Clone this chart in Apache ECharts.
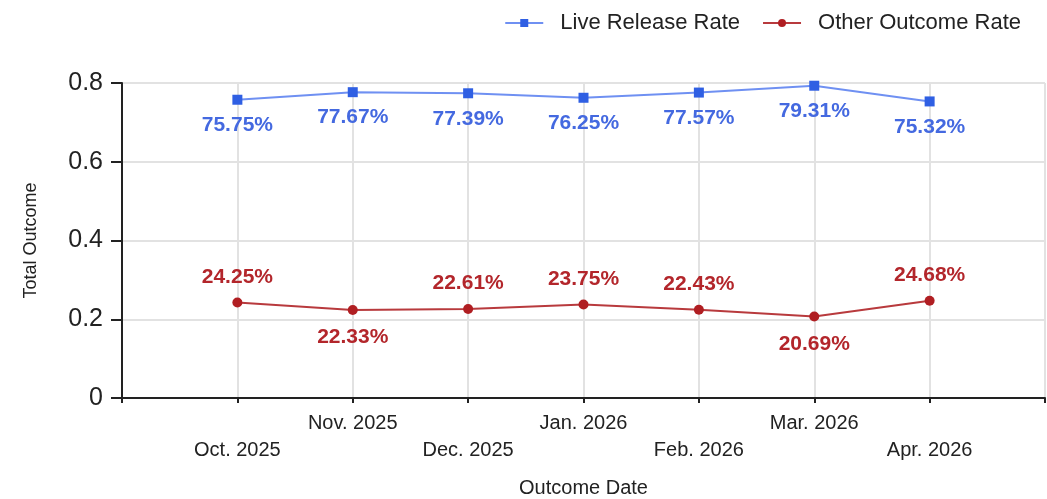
<!DOCTYPE html>
<html>
<head>
<meta charset="utf-8">
<script src="https://cdn.jsdelivr.net/npm/echarts@6/dist/echarts.min.js"></script>
<style>
    html, body { margin: 0; padding: 0; background: #fff; }
    #main { width: 1047px; height: 499px; }
</style>
</head>
<body>
<div id="main"></div>
<script>
// months shown on the x axis (blank slots at both ends, like the original)
var months = ['', 'Oct. 2025', 'Nov. 2025', 'Dec. 2025', 'Jan. 2026', 'Feb. 2026', 'Mar. 2026', 'Apr. 2026', ''];
var liveRelease = [null, 0.7575, 0.7767, 0.7739, 0.7625, 0.7757, 0.7931, 0.7532, null];
var otherOutcome = [null, 0.2425, 0.2233, 0.2261, 0.2375, 0.2243, 0.2069, 0.2468, null];
var yTicks = [0, 0.2, 0.4, 0.6, 0.8];

var font = 'Liberation Sans, Arial, sans-serif';

function pct(p) {
    return (p.value * 100).toFixed(2) + '%';
}

// red labels go under the point when it is a dip, otherwise above
function otherData() {
    var out = [];
    for (var i = 0; i < otherOutcome.length; i++) {
        var v = otherOutcome[i];
        if (v == null) { out.push(null); continue; }
        var prev = otherOutcome[i - 1], next = otherOutcome[i + 1];
        var dip = prev != null && next != null && v < prev && v < next;
        out.push({
            value: v,
            label: { position: dip ? 'bottom' : 'top', distance: dip ? 12 : 10 }
        });
    }
    return out;
}

var myChart = echarts.init(document.getElementById('main'));

var option = {
    animation: false,
    legend: {
        top: 7,
        right: 21,
        itemWidth: 38,
        itemHeight: 10,
        itemGap: 22,
        textStyle: { fontFamily: font, fontSize: 22, color: '#222', padding: [0, 0, 0, 12] },
        data: ['Live Release Rate', 'Other Outcome Rate']
    },
    grid: {
        left: 122,
        right: 2,
        top: 83,
        bottom: 101,
        outerBoundsMode: 'none',
        containLabel: false
    },
    xAxis: {
        type: 'category',
        boundaryGap: false,
        data: months,
        name: 'Outcome Date',
        nameLocation: 'middle',
        nameGap: 80,
        nameTextStyle: { fontFamily: font, fontSize: 20, color: '#222' },
        axisLine: { lineStyle: { color: '#222', width: 2 } },
        axisTick: { show: true, interval: 0, length: 5, lineStyle: { color: '#222', width: 2 } },
        axisLabel: {
            interval: 0,
            margin: 12,
            lineHeight: 27,
            fontFamily: font,
            fontSize: 20,
            color: '#222',
            formatter: function (val, idx) {
                return idx % 2 === 1 ? '\n' + val : val;
            }
        },
        splitLine: { show: true, interval: 0, lineStyle: { color: '#e2e2e2', width: 2 } }
    },
    yAxis: {
        type: 'value',
        min: yTicks[0],
        max: yTicks[yTicks.length - 1],
        interval: yTicks[1] - yTicks[0],
        name: 'Total Outcome',
        nameLocation: 'middle',
        nameGap: 82,
        nameTextStyle: { fontFamily: font, fontSize: 18, color: '#222' },
        axisLine: { show: true, lineStyle: { color: '#222', width: 2 } },
        axisTick: { show: true, length: 11, lineStyle: { color: '#222', width: 2 } },
        axisLabel: { margin: 19, fontFamily: font, fontSize: 25, color: '#222' },
        splitLine: { show: true, lineStyle: { color: '#e2e2e2', width: 2 } }
    },
    series: [
        {
            name: 'Live Release Rate',
            type: 'line',
            data: liveRelease,
            symbol: 'rect',
            symbolSize: 10,
            itemStyle: { color: '#2f5fe3' },
            lineStyle: { color: '#6f90f2', width: 2 },
            label: {
                show: true,
                position: 'bottom',
                distance: 10,
                formatter: pct,
                fontFamily: font,
                fontSize: 21,
                fontWeight: 'bold',
                color: '#4469e0'
            }
        },
        {
            name: 'Other Outcome Rate',
            type: 'line',
            data: otherData(),
            symbol: 'circle',
            symbolSize: 10,
            itemStyle: { color: '#b01e22' },
            lineStyle: { color: '#b83a3d', width: 2 },
            label: {
                show: true,
                formatter: pct,
                fontFamily: font,
                fontSize: 21,
                fontWeight: 'bold',
                color: '#b3262b'
            }
        }
    ]
};

myChart.setOption(option);
</script>
</body>
</html>
